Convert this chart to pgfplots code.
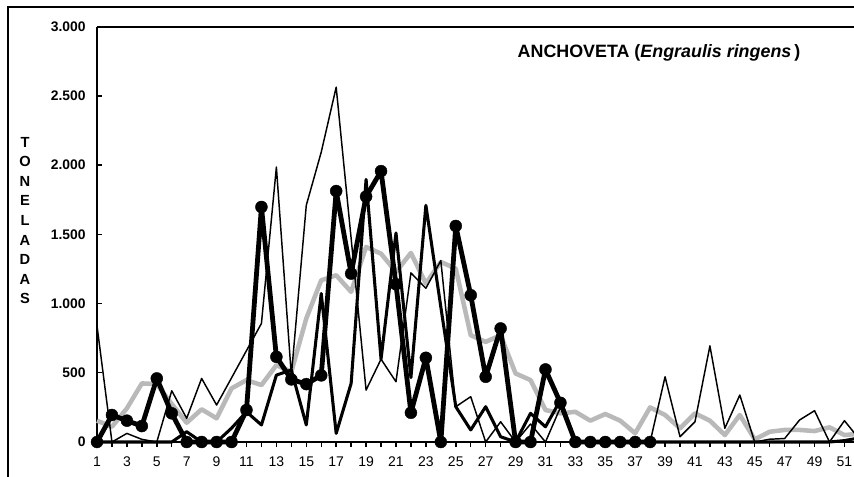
\documentclass[border=0pt]{standalone}
\usepackage{pgfplots}
\pgfplotsset{compat=1.18}
\usepackage{pgfplotstable}
\usepackage{fontspec}
\setmainfont{Liberation Sans}
\definecolor{avggray}{RGB}{185,185,185}
\pgfplotstableread{
w s1 s2 s4
1 840 0 154
2 0 0 110
3 62 0 243
4 19 0 423
5 0 0 418
6 370 0 274
7 171 74 139
8 459 0 236
9 267 0 171
10 463 100 387
11 660 218 447
12 856 123 411
13 1985 483 555
14 480 520 507
15 1709 123 892
16 2093 1072 1168
17 2562 62 1204
18 1470 423 1084
19 375 1896 1408
20 598 598 1360
21 435 1509 1228
22 1221 465 1365
23 1110 1709 1144
24 1310 975 1300
25 255 255 1252
26 327 87 771
27 0 255 723
28 146 38 771
29 0 0 495
30 130 207 447
31 0 110 231
32 250 303 207
33 0 0 218
34 0 0 154
35 0 0 202
36 0 0 154
37 0 0 63
38 0 0 250
39 471 0 195
40 38 0 99
41 146 0 207
42 694 0 154
43 99 0 50
44 339 0 195
45 0 0 19
46 20 0 74
47 25 0 87
48 159 0 87
49 226 0 79
50 0 0 106
51 154 10 50
52 20 30 60
}\datatable
\pgfplotstableread{
w s3
1 0
2 195
3 154
4 115
5 459
6 207
7 0
8 0
9 0
10 0
11 231
12 1697
13 615
14 452
15 418
16 481
17 1812
18 1216
19 1772
20 1956
21 1139
22 211
23 608
24 0
25 1560
26 1060
27 471
28 820
29 0
30 0
31 524
32 283
33 0
34 0
35 0
36 0
37 0
38 0
}\thicktable
\begin{document}
\begin{tikzpicture}
\useasboundingbox (0,0) rectangle (640.5pt,-357.75pt);
\draw[line width=1.1pt] (6pt,-5.25pt) rectangle (700pt,-400pt);
\begin{axis}[
  at={(72.75pt,-331.5pt)}, anchor=south west,
  scale only axis,
  width=571.8pt, height=311.6pt,
  xmin=1, xmax=52, ymin=0, ymax=3000,
  clip=false,
  separate axis lines,
  axis line style={line width=1.1pt},
  every outer x axis line/.append style={line width=1.5pt},
  xtick={1,...,52},
  xticklabels={1,,3,,5,,7,,9,,11,,13,,15,,17,,19,,21,,23,,25,,27,,29,,31,,33,,35,,37,,39,,41,,43,,45,,47,,49,,51,},
  ytick={0,500,1000,1500,2000,2500,3000},
  yticklabels={0,500,1.000,1.500,2.000,2.500,3.000},
  xtick pos=bottom, ytick pos=left,
  xtick align=outside, ytick align=inside,
  major tick length=3.75pt,
  every tick/.style={black, line width=1.1pt},
  x tick label style={font=\fontsize{10.5}{12}\selectfont, yshift=-3.5pt},
  y tick label style={font=\bfseries\fontsize{10.4}{12}\selectfont, xshift=-5pt},
  line join=round,
]
\addplot[avggray, line width=3.4pt, no marks] table[x=w, y=s4] {\datatable};
\addplot[black, line width=1.1pt, no marks] table[x=w, y=s1] {\datatable};
\addplot[black, line width=2.3pt, no marks] table[x=w, y=s2] {\datatable};
\addplot[black, line width=3.6pt, mark=*, mark size=4.5pt, mark options={solid, fill=black, draw=black, line width=0.3pt}] table[x=w, y=s3] {\thicktable};
\end{axis}
\node[font=\bfseries\fontsize{13.4}{15}\selectfont] at (494.25pt,-39.75pt) {ANCHOVETA (\textit{Engraulis ringens}\,)};
\node[font=\bfseries\fontsize{11}{14.7}\selectfont, align=center] at (18.75pt,-165.4pt) {T\\O\\N\\E\\L\\A\\D\\A\\S};
\end{tikzpicture}
\end{document}
